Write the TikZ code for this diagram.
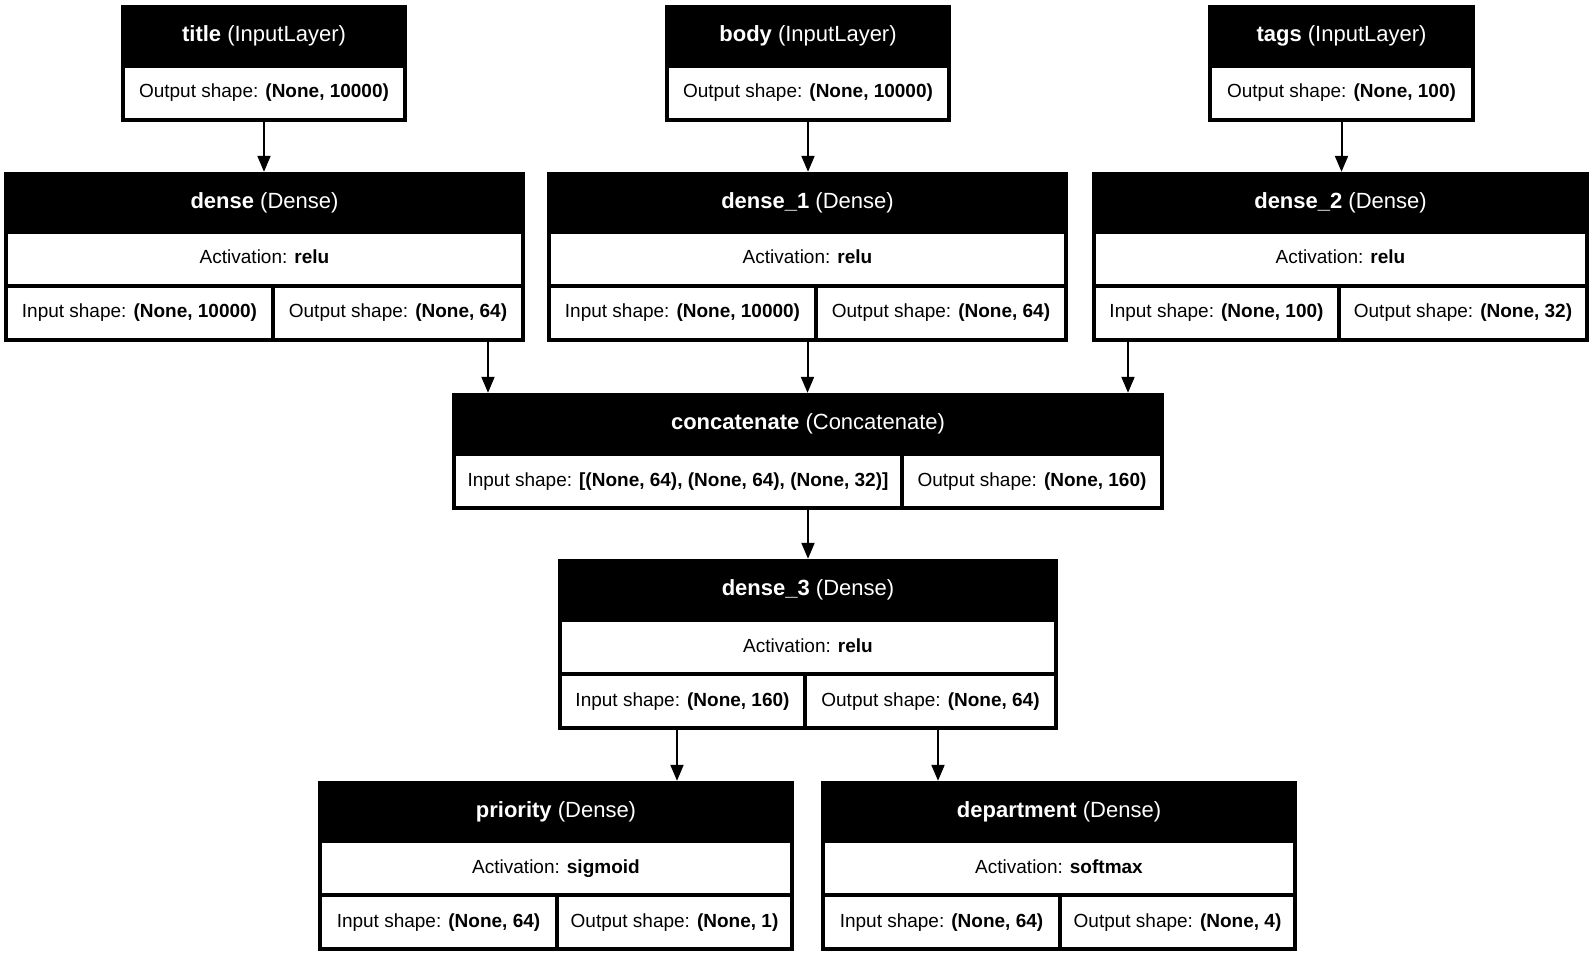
\documentclass[tikz,border=0pt]{standalone}
\usepackage{fontspec}
\setmainfont{Liberation Sans}
\usetikzlibrary{arrows.meta}

\tikzset{
  layer/.style={rectangle, fill=black, inner sep=0pt},
  head/.style={text=white, inner sep=0pt, text height=16pt, text depth=5pt, font=\fontsize{22}{26}\selectfont},
  cell/.style={rectangle, fill=white, inner sep=0pt, minimum height=50pt, text height=14pt, text depth=4pt, font=\fontsize{19}{23}\selectfont},
  link/.style={line width=2pt, -{Triangle[length=16pt, width=13pt]}}
}

\begin{document}
\begin{tikzpicture}[x=1pt, y=-1pt]
\useasboundingbox (0,0) rectangle (1595,957);
% input layers
\node[layer, minimum width=286pt, minimum height=117pt] (title) at (264,63.5) {};
\node[head] (titlename) at (264,36.5) {\textbf{title} (InputLayer)};
\node[cell, minimum width=278pt] (titleout) at (264,93) {Output shape: \textbf{(None, 10000)}};
\node[layer, minimum width=286pt, minimum height=117pt] (body) at (808,63.5) {};
\node[head] (bodyname) at (808,36.5) {\textbf{body} (InputLayer)};
\node[cell, minimum width=278pt] (bodyout) at (808,93) {Output shape: \textbf{(None, 10000)}};
\node[layer, minimum width=267pt, minimum height=117pt] (tags) at (1341.5,63.5) {};
\node[head] (tagsname) at (1341.5,36.5) {\textbf{tags} (InputLayer)};
\node[cell, minimum width=259pt] (tagsout) at (1341.5,93) {Output shape: \textbf{(None, 100)}};
% dense row
\node[layer, minimum width=521pt, minimum height=170pt] (dense) at (264.5,257) {};
\node[head] (densename) at (264.5,203) {\textbf{dense} (Dense)};
\node[cell, minimum width=513pt] (denseact) at (264.5,259) {Activation: \textbf{relu}};
\node[cell, minimum width=263pt] (densein) at (139.5,313) {Input shape: \textbf{(None, 10000)}};
\node[cell, minimum width=246pt] (denseout) at (398,313) {Output shape: \textbf{(None, 64)}};
\node[layer, minimum width=521pt, minimum height=170pt] (dense1) at (807.5,257) {};
\node[head] (dense1name) at (807.5,203) {\textbf{dense\_1} (Dense)};
\node[cell, minimum width=513pt] (dense1act) at (807.5,259) {Activation: \textbf{relu}};
\node[cell, minimum width=263pt] (dense1in) at (682.5,313) {Input shape: \textbf{(None, 10000)}};
\node[cell, minimum width=246pt] (dense1out) at (941,313) {Output shape: \textbf{(None, 64)}};
\node[layer, minimum width=497pt, minimum height=170pt] (dense2) at (1340.5,257) {};
\node[head] (dense2name) at (1340.5,203) {\textbf{dense\_2} (Dense)};
\node[cell, minimum width=489pt] (dense2act) at (1340.5,259) {Activation: \textbf{relu}};
\node[cell, minimum width=241pt] (dense2in) at (1216.5,313) {Input shape: \textbf{(None, 100)}};
\node[cell, minimum width=244pt] (dense2out) at (1463,313) {Output shape: \textbf{(None, 32)}};
% concatenate
\node[layer, minimum width=712pt, minimum height=117pt] (concat) at (808,451.5) {};
\node[head] (concatname) at (808,424) {\textbf{concatenate} (Concatenate)};
\node[cell, minimum width=444pt] (concatin) at (678,481) {Input shape: \textbf{[(None, 64), (None, 64), (None, 32)]}};
\node[cell, minimum width=256pt] (concatout) at (1032,481) {Output shape: \textbf{(None, 160)}};
% dense_3
\node[layer, minimum width=500pt, minimum height=171pt] (dense3) at (808,644.5) {};
\node[head] (dense3name) at (808,590) {\textbf{dense\_3} (Dense)};
\node[cell, minimum width=492pt] (dense3act) at (808,647) {Activation: \textbf{relu}};
\node[cell, minimum width=241pt] (dense3in) at (682.5,701) {Input shape: \textbf{(None, 160)}};
\node[cell, minimum width=247pt] (dense3out) at (930.5,701) {Output shape: \textbf{(None, 64)}};
% outputs
\node[layer, minimum width=476pt, minimum height=170pt] (priority) at (556,866) {};
\node[head] (priorityname) at (556,812) {\textbf{priority} (Dense)};
\node[cell, minimum width=468pt] (priorityact) at (556,868) {Activation: \textbf{sigmoid}};
\node[cell, minimum width=233pt] (priorityin) at (438.5,922) {Input shape: \textbf{(None, 64)}};
\node[cell, minimum width=231pt] (priorityout) at (674.5,922) {Output shape: \textbf{(None, 1)}};
\node[layer, minimum width=476pt, minimum height=170pt] (department) at (1059,866) {};
\node[head] (departmentname) at (1059,812) {\textbf{department} (Dense)};
\node[cell, minimum width=468pt] (departmentact) at (1059,868) {Activation: \textbf{softmax}};
\node[cell, minimum width=233pt] (departmentin) at (941.5,922) {Input shape: \textbf{(None, 64)}};
\node[cell, minimum width=231pt] (departmentout) at (1177.5,922) {Output shape: \textbf{(None, 4)}};
% arrows
\draw[link] (title.south) -- (title.south |- dense.north);
\draw[link] (body.south) -- (body.south |- dense1.north);
\draw[link] (tags.south) -- (tags.south |- dense2.north);
\draw[link] (488,0 |- dense.south) -- (488,0 |- concat.north);
\draw[link] (dense1.south) -- (dense1.south |- concat.north);
\draw[link] (1128,0 |- dense2.south) -- (1128,0 |- concat.north);
\draw[link] (concat.south) -- (concat.south |- dense3.north);
\draw[link] (677,0 |- dense3.south) -- (677,0 |- priority.north);
\draw[link] (938,0 |- dense3.south) -- (938,0 |- department.north);
\end{tikzpicture}
\end{document}
